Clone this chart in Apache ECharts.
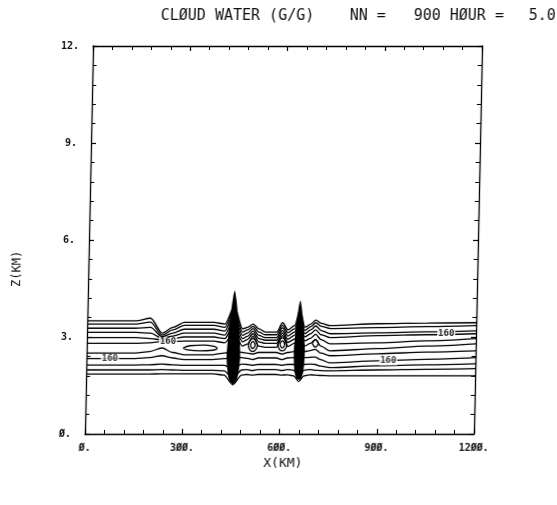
<!DOCTYPE html>
<html><head><meta charset="utf-8">
<script src="https://cdn.jsdelivr.net/npm/echarts@6/dist/echarts.min.js"></script>
<style>html,body{margin:0;padding:0;background:#fff;}#c{width:557px;height:505px;transform:skewX(-1.2deg);transform-origin:280px 240px;}</style>
</head><body><div id="c"></div>
<script>
// x positions (km) shared by the layer contour lines
const contourX = [0,150,195,232,265,300,390,425,453,480,495,512,530,550,585,603,620,640,656,672,690,705,722,750,900,1050,1200];
// heights (km) of each contour line at contourX
const line1  = [3.50,3.50,3.58,3.12,3.30,3.45,3.45,3.40,3.95,3.25,3.30,3.40,3.25,3.15,3.15,3.44,3.22,3.35,3.85,3.30,3.40,3.52,3.42,3.35,3.41,3.43,3.44];
const line2  = [3.40,3.40,3.46,3.06,3.22,3.36,3.36,3.30,3.85,3.15,3.22,3.33,3.15,3.07,3.07,3.36,3.13,3.25,3.75,3.20,3.32,3.44,3.33,3.26,3.29,3.32,3.35];
const line3  = [3.27,3.27,3.30,3.01,3.12,3.24,3.24,3.18,3.70,3.05,3.12,3.26,3.05,2.98,2.98,3.28,3.03,3.15,3.60,3.10,3.22,3.34,3.20,3.10,3.13,3.16,3.19];
const line4  = [3.14,3.14,3.12,2.96,3.03,3.12,3.12,3.06,3.55,2.95,3.02,3.18,2.95,2.90,2.90,3.20,2.93,3.05,3.45,3.00,3.10,3.22,3.07,2.98,3.04,3.07,3.10];
const line5  = [2.98,2.98,2.95,2.91,2.95,3.00,3.00,2.95,3.35,2.85,2.92,3.10,2.85,2.80,2.80,3.12,2.83,2.93,3.25,2.88,2.96,3.08,2.92,2.79,2.82,2.88,2.95];
const line6  = [2.80,2.80,2.82,2.86,2.86,2.87,2.87,2.82,3.15,2.72,2.78,3.02,2.72,2.68,2.68,3.04,2.70,2.80,3.05,2.72,2.80,2.92,2.72,2.57,2.64,2.72,2.79];
const line7  = [2.50,2.50,2.55,2.66,2.52,2.45,2.45,2.50,2.60,2.52,2.50,2.47,2.52,2.52,2.52,2.47,2.52,2.55,2.60,2.55,2.58,2.62,2.50,2.42,2.48,2.53,2.57];
const line8  = [2.33,2.33,2.36,2.42,2.35,2.30,2.30,2.33,2.35,2.36,2.34,2.30,2.35,2.35,2.35,2.30,2.35,2.36,2.35,2.36,2.37,2.38,2.30,2.20,2.26,2.31,2.36];
const line9  = [2.13,2.13,2.14,2.16,2.14,2.12,2.12,2.12,2.00,2.16,2.15,2.12,2.15,2.15,2.15,2.12,2.15,2.15,2.05,2.15,2.16,2.15,2.10,2.05,2.11,2.14,2.17];
const line10 = [1.98,1.98,1.98,1.99,1.98,1.97,1.97,1.95,1.72,1.98,1.99,1.96,1.99,1.99,1.99,1.96,1.99,1.97,1.78,1.97,1.99,1.97,1.96,1.95,1.98,2.00,2.02];
const line11 = [1.85,1.85,1.85,1.86,1.86,1.86,1.86,1.82,1.52,1.82,1.84,1.82,1.84,1.84,1.84,1.82,1.83,1.80,1.62,1.80,1.83,1.82,1.81,1.80,1.80,1.80,1.80];
// closed contours [x km, z km]
const eyeLoop   = [[297,2.65],[320,2.73],[360,2.75],[395,2.70],[402,2.65],[390,2.59],[350,2.57],[310,2.60],[297,2.65]];
const bump1Outer = [[498,2.74],[503,2.88],[512,2.95],[521,2.88],[526,2.74],[521,2.60],[512,2.55],[503,2.60],[498,2.74]];
const bump1Inner = [[505,2.75],[508,2.83],[512,2.86],[516,2.83],[519,2.75],[516,2.67],[512,2.64],[508,2.67],[505,2.75]];
const bump2Outer = [[589,2.76],[594,2.90],[603,2.97],[612,2.90],[617,2.76],[612,2.62],[603,2.57],[594,2.62],[589,2.76]];
const bump2Inner = [[596,2.77],[599,2.85],[603,2.88],[607,2.85],[610,2.77],[607,2.69],[603,2.66],[599,2.69],[596,2.77]];
const bump3Loop  = [[696,2.80],[700,2.88],[705,2.92],[710,2.88],[714,2.80],[710,2.72],[705,2.69],[700,2.72],[696,2.80]];
// dense cores (solid black towers)
const tower1 = [[453,4.43],[458,4.2],[463,3.8],[468,3.3],[472,2.8],[474,2.4],[471,2.0],[466,1.7],[459,1.58],[453,1.55],[447,1.58],[440,1.7],[435,2.0],[432,2.4],[434,2.8],[438,3.3],[443,3.8],[448,4.2]];
const tower2 = [[656,4.12],[661,3.9],[665,3.5],[670,3.0],[673,2.6],[672,2.2],[669,1.9],[663,1.72],[656,1.68],[649,1.72],[643,1.9],[640,2.2],[639,2.6],[642,3.0],[647,3.5],[651,3.9]];
// contour labels
const labelPos = [[72,2.33],[250,2.86],[931,2.26],[1108,3.10]];
const labelText = ['160','160','160','160'];

const fontMono = '"DejaVu Sans Mono", "Liberation Mono", monospace';
const fmt = v => String(v).replace(/0/g,'Ø') + '.';
const layerLines = [line1,line2,line3,line4,line5,line6,line7,line8,line9,line10,line11];
const series = [];
layerLines.forEach(l => series.push({
  type:'line', data: contourX.map((x,i)=>[x,l[i]]), showSymbol:false, symbol:'none',
  smooth:0.3, smoothMonotone:'x', silent:true, z:2,
  lineStyle:{color:'#000', width:1.3}, xAxisIndex:0, yAxisIndex:0
}));
[eyeLoop,bump1Outer,bump1Inner,bump2Outer,bump2Inner,bump3Loop].forEach(l => series.push({
  type:'line', data:l, showSymbol:false, symbol:'none', smooth:0.5, silent:true, z:2,
  lineStyle:{color:'#000', width:1.3}
}));
[tower1,tower2].forEach(t => series.push({
  type:'custom', coordinateSystem:'cartesian2d', data:[t[0]], silent:true, z:3,
  renderItem:(p,api)=>({type:'polygon', shape:{points:t.map(q=>api.coord(q)), smooth:0.3}, style:{fill:'#000'}})
}));
series.push({
  type:'scatter', data:labelPos, symbolSize:1, itemStyle:{color:'transparent'}, silent:true, z:5,
  label:{show:true, position:'inside', formatter:p=>labelText[p.dataIndex], fontFamily:fontMono, fontSize:9, fontWeight:'bold',
    color:'#000', backgroundColor:'#fff', padding:[0,1]}
});

function axisCommon(pos, show){
  return {
    axisLine:{show:true, onZero:false, lineStyle:{color:'#000', width:1.3}},
    axisTick:{show:true, inside:true, length:5, lineStyle:{color:'#000', width:1.2}},
    minorTick:{show:true, splitNumber:5, length:4, lineStyle:{color:'#000', width:1}},
    splitLine:{show:false}, position:pos,
    axisLabel: show ? {formatter:fmt, fontFamily:fontMono, fontSize:10, fontWeight:'bold', color:'#111', margin: (pos==='left'?14:9)} : {show:false}
  };
}
const chart = echarts.init(document.getElementById('c'), null, {renderer:'canvas'});
chart.setOption({
  animation:false,
  backgroundColor:'#fff',
  grid:{left:89, right:79, top:46, bottom:71},
  xAxis:[
    Object.assign({type:'value', min:0, max:1200, interval:300}, axisCommon('bottom', true)),
    Object.assign({type:'value', min:0, max:1200, interval:300}, axisCommon('top', false))
  ],
  yAxis:[
    Object.assign({type:'value', min:0, max:12, interval:3}, axisCommon('left', true)),
    Object.assign({type:'value', min:0, max:12, interval:3}, axisCommon('right', false))
  ],
  graphic:[
    {type:'text', left:156, top:9, style:{text:'CLØUD WATER (G/G)', font:'15px '+fontMono, fill:'#111'}},
    {type:'text', left:345, top:9, style:{text:'NN =', font:'15px '+fontMono, fill:'#111'}},
    {type:'text', left:409, top:9, style:{text:'900', font:'15px '+fontMono, fill:'#111'}},
    {type:'text', left:445, top:9, style:{text:'HØUR =', font:'15px '+fontMono, fill:'#111'}},
    {type:'text', left:524, top:9, style:{text:'5.0', font:'15px '+fontMono, fill:'#111'}},
    {type:'text', left:268, top:457, style:{text:'X(KM)', font:'13px '+fontMono, fill:'#111'}},
    {type:'text', x:12, y:287, rotation:Math.PI/2, style:{text:'Z(KM)', font:'12px '+fontMono, fill:'#111'}}
  ],
  series:series
});
</script></body></html>
